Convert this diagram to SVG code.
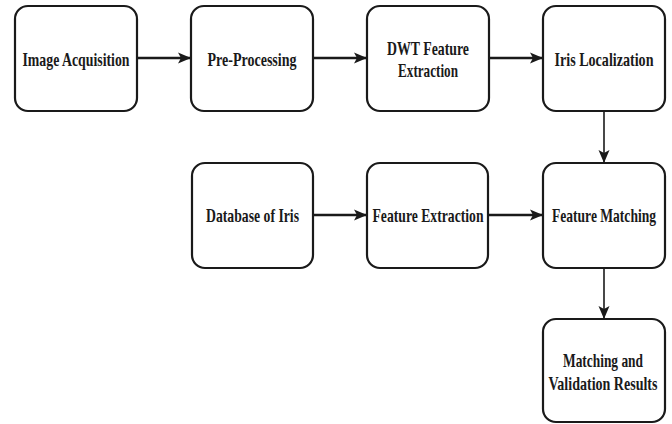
<svg xmlns="http://www.w3.org/2000/svg" width="672" height="424" viewBox="0 0 672 424">
<style>
.box{fill:#fff;stroke:#1a1a1a;stroke-width:2.2}
.t{font-family:"Liberation Serif","Times New Roman",serif;font-weight:bold;font-size:19.5px;fill:#1a1a1a;text-anchor:middle}
.c{stroke:#1a1a1a;fill:none}
.h{stroke-width:2.6}
.v{stroke-width:1.6}
</style>
<defs>
<marker id="ah" markerUnits="userSpaceOnUse" markerWidth="14" markerHeight="14" viewBox="0 0 14 14" refX="13" refY="7" orient="auto">
<path d="M0,1.5 L13,7 L0,12.5 L3,7 Z" fill="#1a1a1a"/>
</marker>
</defs>
<rect width="672" height="424" fill="#fff"/>
<g id="connectors">
<line class="c h" x1="137" y1="58" x2="191" y2="58" marker-end="url(#ah)"/>
<line class="c h" x1="313" y1="58" x2="367" y2="58" marker-end="url(#ah)"/>
<line class="c h" x1="489" y1="58" x2="543" y2="58" marker-end="url(#ah)"/>
<line class="c v" x1="604" y1="111" x2="604" y2="163" marker-end="url(#ah)"/>
<line class="c h" x1="313" y1="215" x2="367" y2="215" marker-end="url(#ah)"/>
<line class="c h" x1="488" y1="215" x2="543" y2="215" marker-end="url(#ah)"/>
<line class="c v" x1="604" y1="268" x2="604" y2="319" marker-end="url(#ah)"/>
</g>
<g id="n1"><rect class="box" x="15" y="6" width="122" height="105" rx="13"/><text class="t" transform="translate(76,66) scale(0.75,1)" textLength="142.7" lengthAdjust="spacingAndGlyphs">Image Acquisition</text></g>
<g id="n2"><rect class="box" x="191" y="6" width="122" height="105" rx="13"/><text class="t" transform="translate(252,66) scale(0.75,1)" textLength="118.7" lengthAdjust="spacingAndGlyphs">Pre-Processing</text></g>
<g id="n3"><rect class="box" x="367" y="6" width="122" height="105" rx="13"/><text class="t" transform="translate(428,55) scale(0.75,1)" textLength="109.3" lengthAdjust="spacingAndGlyphs">DWT Feature</text><text class="t" transform="translate(428,77) scale(0.75,1)" textLength="80" lengthAdjust="spacingAndGlyphs">Extraction</text></g>
<g id="n4"><rect class="box" x="543" y="6" width="122" height="105" rx="13"/><text class="t" transform="translate(604,66) scale(0.75,1)" textLength="132" lengthAdjust="spacingAndGlyphs">Iris Localization</text></g>
<g id="n5"><rect class="box" x="192" y="163" width="121" height="105" rx="13"/><text class="t" transform="translate(252.5,222) scale(0.75,1)" textLength="124" lengthAdjust="spacingAndGlyphs">Database of Iris</text></g>
<g id="n6"><rect class="box" x="367" y="163" width="121" height="105" rx="13"/><text class="t" transform="translate(428,222) scale(0.75,1)" textLength="148" lengthAdjust="spacingAndGlyphs">Feature Extraction</text></g>
<g id="n7"><rect class="box" x="543" y="163" width="122" height="105" rx="13"/><text class="t" transform="translate(604,222) scale(0.75,1)" textLength="138.7" lengthAdjust="spacingAndGlyphs">Feature Matching</text></g>
<g id="n8"><rect class="box" x="543" y="319" width="122" height="103" rx="13"/><text class="t" transform="translate(603,367) scale(0.75,1)" textLength="106.7" lengthAdjust="spacingAndGlyphs">Matching and</text><text class="t" transform="translate(603,390) scale(0.75,1)" textLength="145.3" lengthAdjust="spacingAndGlyphs">Validation Results</text></g>
</svg>
